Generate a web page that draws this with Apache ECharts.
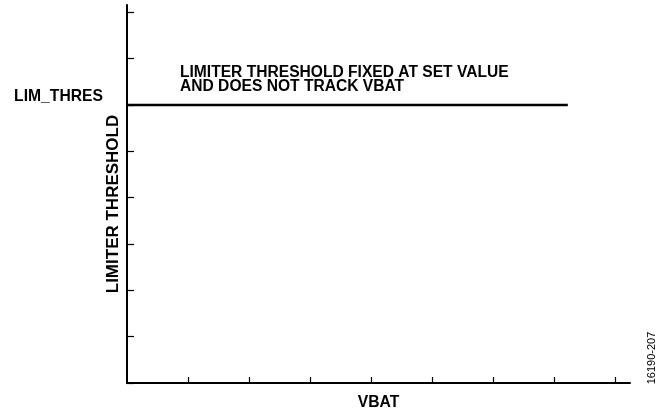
<!DOCTYPE html>
<html>
<head>
<meta charset="utf-8">
<script src="https://cdn.jsdelivr.net/npm/echarts@6/dist/echarts.min.js"></script>
<style>
html,body{margin:0;padding:0;background:#fff;}
#chart{width:665px;height:415px;}
</style>
</head>
<body>
<div id="chart"></div>
<script>
// Data
var vbat = [0, 7.23];
var limiterThreshold = [6, 6];
var xTickValues = [1, 2, 3, 4, 5, 6, 7, 8];
var yTickValues = [0, 1, 2, 3, 4, 5, 6, 7, 8];
var yLabelValues = [6];
var yLabelText = ['LIM_THRES'];
var annotationLines = ['LIMITER THRESHOLD FIXED AT SET VALUE', 'AND DOES NOT TRACK VBAT'];
var xAxisName = 'VBAT';
var yAxisName = 'LIMITER THRESHOLD';
var figureId = '16190-207';

var FONT = '"Liberation Sans", Arial, Helvetica, sans-serif';
var chart = echarts.init(document.getElementById('chart'), null, {renderer: 'canvas'});
chart.setOption({
  animation: false,
  backgroundColor: '#fff',
  grid: {left: 127, right: 35, top: 5, bottom: 32, outerBoundsMode: 'none', containLabel: false},
  xAxis: {
    type: 'value', min: 0, max: 8.25, interval: 1,
    name: xAxisName, nameLocation: 'middle', nameGap: 12,
    nameTextStyle: {fontFamily: FONT, fontWeight: 'bold', fontSize: 15.7, color: '#000'},
    axisLine: {lineStyle: {color: '#000', width: 2}},
    axisTick: {show: true, inside: true, length: 6, customValues: xTickValues, lineStyle: {color: '#000', width: 1.2}},
    axisLabel: {show: false},
    splitLine: {show: false}
  },
  yAxis: {
    type: 'value', min: 0, max: 8.16, interval: 1,
    axisLine: {lineStyle: {color: '#000', width: 2}},
    axisTick: {show: true, inside: true, length: 7, customValues: yTickValues, lineStyle: {color: '#000', width: 1.2}},
    axisLabel: {
      show: true, customValues: yLabelValues, margin: 24,
      formatter: function (v) { var i = yLabelValues.indexOf(v); return i >= 0 ? yLabelText[i] : ''; },
      fontFamily: FONT, fontWeight: 'bold', fontSize: 15.7, color: '#000',
      verticalAlign: 'bottom'
    },
    splitLine: {show: false}
  },
  graphic: [
    {type: 'text', left: 180, top: 65, style: {text: annotationLines.join('\n'), font: 'bold 15.6px ' + FONT, fill: '#000', lineHeight: 14}},
    {type: 'text', x: 113, y: 204, rotation: Math.PI / 2, style: {text: yAxisName, font: 'bold 17px ' + FONT, fill: '#000', align: 'center', verticalAlign: 'middle'}},
    {type: 'text', x: 652, y: 358, rotation: Math.PI / 2, style: {text: figureId, font: '11px ' + FONT, fill: '#000', align: 'center', verticalAlign: 'middle'}}
  ],
  series: [{
    type: 'line',
    data: vbat.map(function (x, i) { return [x, limiterThreshold[i]]; }),
    symbol: 'none',
    lineStyle: {color: '#000', width: 2.5}
  }]
});
</script>
</body>
</html>
